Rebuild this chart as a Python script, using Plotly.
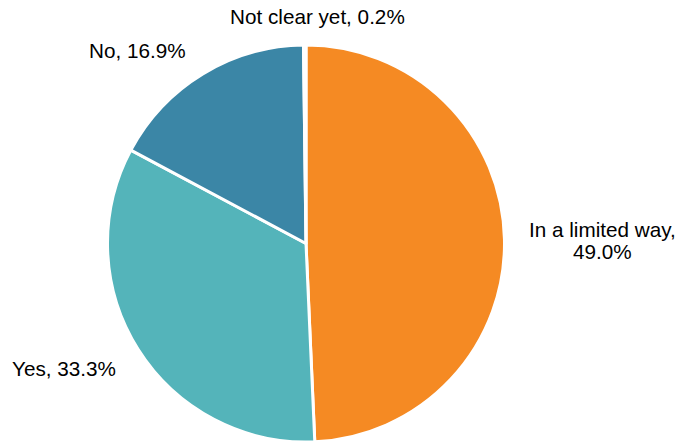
import plotly.graph_objects as go

# Data
labels = ["In a limited way", "Yes", "No", "Not clear yet"]
values = [49.0, 33.3, 16.9, 0.2]
colors = ["#F58A23", "#54B4BA", "#3B86A6", "#BFBFBF"]

# Label text (as shown in chart)
label_texts = ["In a limited way,<br>{:.1f}%".format(values[0]),
               "{}, {:.1f}%".format(labels[1], values[1]),
               "{}, {:.1f}%".format(labels[2], values[2]),
               "{}, {:.1f}%".format(labels[3], values[3])]
# Label positions in paper coordinates (x, y of text centre)
label_pos = [(0.886, 0.4559), (0.0946, 0.1674), (0.2015, 0.885), (0.4662, 0.9622)]

fig = go.Figure(go.Pie(
    labels=labels,
    values=values,
    sort=False,
    direction="clockwise",
    rotation=0,
    marker=dict(colors=colors, line=dict(color="white", width=3)),
    textinfo="none",
    hoverinfo="label+value",
    showlegend=False,
    domain=dict(x=[107.5 / 680, 504.5 / 680], y=[0 / 442, 397 / 442]),
))

font = dict(family="Liberation Sans, Arial, sans-serif", size=20.7, color="#000000")
line_gap = 22 / 442
annotations = []
for txt, (x, y) in zip(label_texts, label_pos):
    lines = txt.split("<br>")
    n = len(lines)
    for i, ln in enumerate(lines):
        yy = y + ((n - 1) / 2 - i) * line_gap
        annotations.append(dict(text=ln, x=x, y=yy, xref="paper", yref="paper",
                                xanchor="center", yanchor="middle", showarrow=False,
                                font=font))

fig.update_layout(
    width=680, height=442,
    margin=dict(l=0, r=0, t=0, b=0),
    paper_bgcolor="white", plot_bgcolor="white",
    annotations=annotations,
)

fig.write_html("out.html",
               config={"displayModeBar": False},
               post_script="document.body.style.margin='0';document.body.style.overflow='hidden';")
